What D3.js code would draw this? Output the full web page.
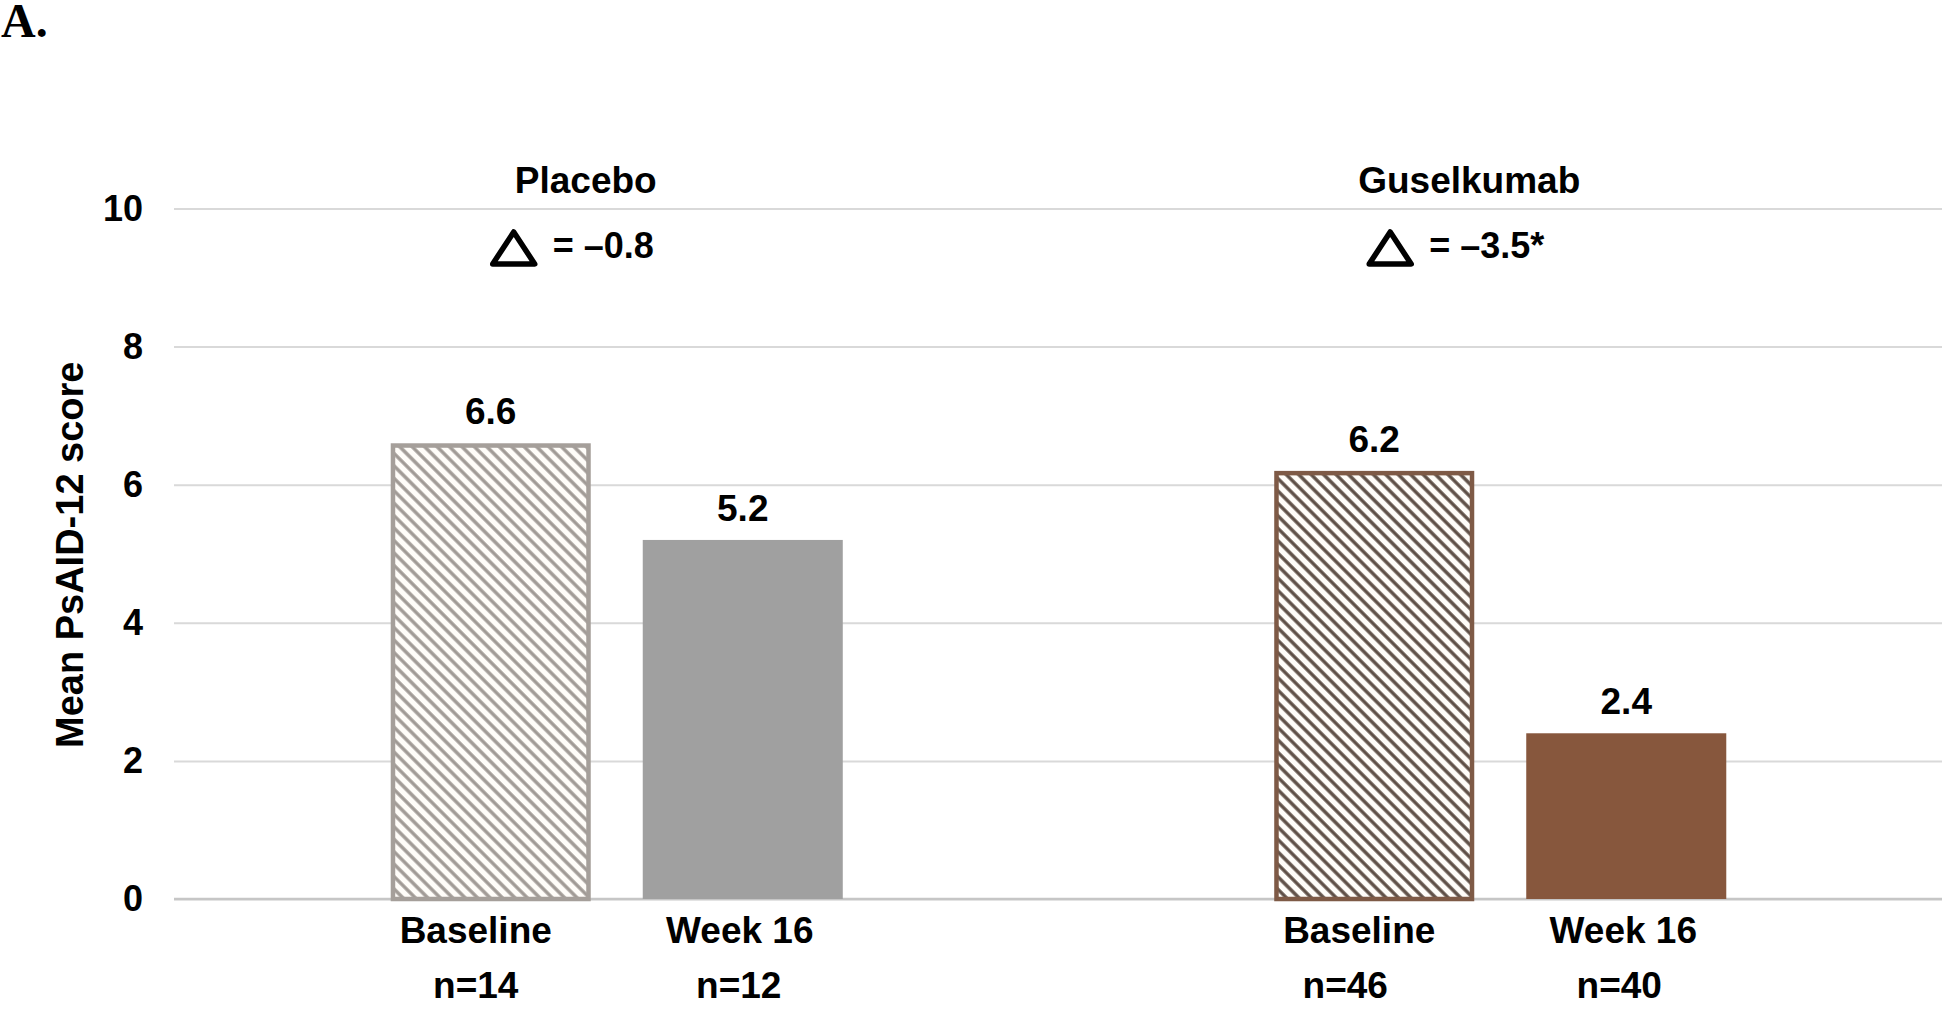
<!DOCTYPE html>
<html>
<head>
<meta charset="utf-8">
<script src="https://cdn.jsdelivr.net/npm/d3@7"></script>
<style>
  html, body { margin: 0; padding: 0; background: #fff; }
  svg text { font-family: "Liberation Sans", Arial, sans-serif; font-weight: bold; fill: #000; }
</style>
</head>
<body>
<div id="chart"></div>
<script>
// Data
var groups = ["Placebo", "Guselkumab"];
var timepoints = ["Baseline", "Week 16"];
var placeboMeans = [6.6, 5.2];
var guselkumabMeans = [6.2, 2.4];
var placeboN = [14, 12];
var guselkumabN = [46, 40];
var deltas = ["\u20130.8", "\u20133.5*"];
var yTicks = [0, 2, 4, 6, 8, 10];

var means = [placeboMeans, guselkumabMeans];
var counts = [placeboN, guselkumabN];

// Colours per group: [baseline outline, baseline stripes, week 16 fill]
var colours = [
    { outline: "#a59f9a", stripe: "#a09a95", solid: "#a0a0a0" },
    { outline: "#7e5a46", stripe: "#5e4f46", solid: "#87573d" }
];

// Layout
var width = 1950, height = 1010;
var plot = { left: 175, right: 1942, top: 208.5, bottom: 899 };

var svg = d3.select("#chart").append("svg")
    .attr("width", width)
    .attr("height", height);

// Hatch patterns
var defs = svg.append("defs");
colours.forEach(function(c, i) {
    var p = defs.append("pattern")
        .attr("id", "hatch" + i)
        .attr("patternUnits", "userSpaceOnUse")
        .attr("width", 8.8)
        .attr("height", 8.8)
        .attr("patternTransform", "rotate(-45)");
    p.append("rect")
        .attr("width", 8.8)
        .attr("height", 8.8)
        .attr("fill", "#fffdf9");
    p.append("line")
        .attr("x1", 2).attr("y1", -1)
        .attr("x2", 2).attr("y2", 10)
        .attr("stroke", c.stripe)
        .attr("stroke-width", 3.4);
});

// Panel letter
svg.append("text")
    .attr("x", 1)
    .attr("y", 37)
    .style("font-family", "'Liberation Serif', 'Times New Roman', serif")
    .style("font-size", "48px")
    .text("A.");

// Scales
var x0 = d3.scaleBand()
    .domain(groups)
    .range([plot.left, plot.right])
    .padding(0);

var x1 = d3.scaleBand()
    .domain(timepoints)
    .range([0, x0.bandwidth()])
    .paddingInner(0.2063)
    .paddingOuter(0.856);

var y = d3.scaleLinear()
    .domain([0, 10])
    .range([plot.bottom, plot.top]);

// Y axis with gridlines
var yAxis = d3.axisLeft(y)
    .tickValues(yTicks)
    .tickSize(-(plot.right - plot.left + 1))
    .tickPadding(31)
    .tickFormat(d3.format("d"));

var yG = svg.append("g")
    .attr("transform", "translate(" + (plot.left - 1) + ",0)")
    .call(yAxis);
yG.select(".domain").remove();
yG.selectAll(".tick line")
    .attr("stroke", "#d9d9d9")
    .attr("stroke-width", 2);
yG.selectAll(".tick text")
    .style("font-size", "36px")
    .style("font-family", "'Liberation Sans', Arial, sans-serif")
    .style("font-weight", "bold")
    .attr("fill", "#000");

// Category axis line
svg.append("line")
    .attr("x1", plot.left - 1)
    .attr("x2", plot.right)
    .attr("y1", y(0))
    .attr("y2", y(0))
    .attr("stroke", "#c6c6c6")
    .attr("stroke-width", 2.5);

// Y axis title
svg.append("text")
    .attr("transform", "translate(83," + ((plot.top + plot.bottom) / 2 + 1) + ") rotate(-90)")
    .attr("text-anchor", "middle")
    .style("font-size", "38px")
    .text("Mean PsAID-12 score");

// Bars
groups.forEach(function(g, gi) {
    var gx = x0(g);
    var bw = x1.bandwidth();
    var c = colours[gi];

    timepoints.forEach(function(t, ti) {
        var v = means[gi][ti];
        var bx = gx + x1(t);
        if (ti === 0) {
            // hatched baseline bar, outline kept inside the bar edges
            svg.append("rect")
                .attr("x", bx + 2.25)
                .attr("y", y(v) + 2.25)
                .attr("width", bw - 4.5)
                .attr("height", y(0) - y(v) - 2.25)
                .attr("fill", "url(#hatch" + gi + ")")
                .attr("stroke", c.outline)
                .attr("stroke-width", 4.5);
        } else {
            svg.append("rect")
                .attr("x", bx)
                .attr("y", y(v))
                .attr("width", bw)
                .attr("height", y(0) - y(v))
                .attr("fill", c.solid);
        }

        // value label
        svg.append("text")
            .attr("x", bx + bw / 2)
            .attr("y", y(v) - 19)
            .attr("text-anchor", "middle")
            .style("font-size", "37px")
            .text(d3.format(".1f")(v));
    });
});

// Category and n labels under the bars (nudged as in the original layout)
var catNudge = [-15, -3];
var nNudge = [[-15, -4], [-29, -7]];
groups.forEach(function(g, gi) {
    timepoints.forEach(function(t, ti) {
        var cx = x0(g) + x1(t) + x1.bandwidth() / 2;
        svg.append("text")
            .attr("x", cx + catNudge[ti])
            .attr("y", 943)
            .attr("text-anchor", "middle")
            .style("font-size", "37px")
            .text(t);
        svg.append("text")
            .attr("x", cx + nNudge[gi][ti])
            .attr("y", 998)
            .attr("text-anchor", "middle")
            .style("font-size", "37px")
            .text("n=" + counts[gi][ti]);
    });
});

// Group titles and delta annotations
groups.forEach(function(g, gi) {
    var cx = x0(g) + x0.bandwidth() / 2;

    svg.append("text")
        .attr("x", cx - 31)
        .attr("y", 193)
        .attr("text-anchor", "middle")
        .style("font-size", "37px")
        .text(g);

    var dg = svg.append("g");
    var triW = 48, triH = 38, gap = 15;
    var dt = dg.append("text")
        .attr("x", triW + gap)
        .attr("y", 29)
        .style("font-size", "36px")
        .text("= " + deltas[gi]);
    var total = triW + gap + dt.node().getComputedTextLength();

    dg.insert("path", "text")
        .attr("d", "M" + (triW / 2) + ",3 L" + (triW - 3) + "," + (triH - 3) + " L3," + (triH - 3) + "Z")
        .attr("fill", "none")
        .attr("stroke", "#000")
        .attr("stroke-width", 5.5)
        .attr("stroke-linejoin", "round");

    dg.attr("transform", "translate(" + (cx - 45 - total / 2) + ",229)");
});
</script>
</body>
</html>
